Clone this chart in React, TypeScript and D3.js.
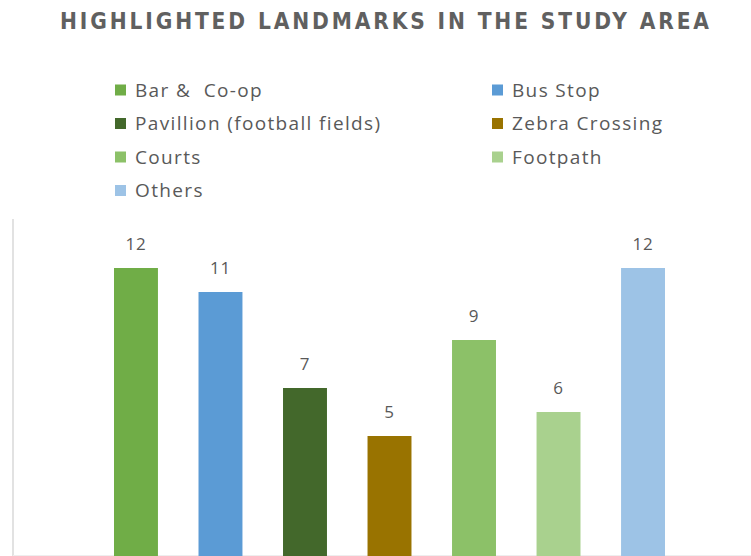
import React from "react";
import * as d3 from "d3";

const categories = ["Bar &  Co-op", "Bus Stop", "Pavillion (football fields)", "Zebra Crossing", "Courts", "Footpath", "Others"];
const values = [12, 11, 7, 5, 9, 6, 12];
const colors = ["#70AD47", "#5B9BD5", "#43682B", "#997300", "#8CC168", "#A9D18E", "#9DC3E6"];
const title = "HIGHLIGHTED LANDMARKS IN THE STUDY AREA";

const W = 751;
const H = 556;

export default function App() {
  const x = d3.scaleBand<string>().domain(categories).range([114, 665]).paddingInner(0.48).paddingOuter(0);
  const y = d3.scaleLinear().domain([0, 14]).range([556, 220]);
  const font = "'Open Sans', 'Noto Sans', sans-serif";
  return (
    <svg width={W} height={H} style={{ position: "absolute", left: 0, top: 0, background: "#fff" }}>
      <text x={60} y={28.5} textLength={649} lengthAdjust="spacing" fill="#606060" fontSize={22.5} fontWeight="bold"
        fontStretch="condensed"
        fontFamily="'DejaVu Sans', sans-serif">{title}</text>
      {categories.map((c, i) => {
        const col = i % 2;
        const row = Math.floor(i / 2);
        const lx = col === 0 ? 115 : 492;
        const ly = 90 + row * 33.5;
        return (
          <g key={c}>
            <rect x={lx} y={ly - 5.5} width={11} height={11} fill={colors[i]} />
            <text x={lx + 20} y={ly} dy="0.35em" fontSize={19} letterSpacing={1.35} fill="#595959" fontFamily={font} style={{ whiteSpace: "pre" }}>{c}</text>
          </g>
        );
      })}
      <line x1={13} x2={13} y1={219} y2={556} stroke="#D9D9D9" strokeWidth={1.5} />
      <line x1={13} x2={W} y1={555.5} y2={555.5} stroke="#EEEEEE" strokeWidth={1} />
      {categories.map((c, i) => (
        <g key={"b" + c}>
          <rect x={x(c)!} y={y(values[i])} width={x.bandwidth()} height={y(0) - y(values[i])} fill={colors[i]} />
          <text x={x(c)! + x.bandwidth() / 2} y={y(values[i]) - 18} textAnchor="middle" fontSize={17} letterSpacing={0.8} fill="#595959" fontFamily={font}>{values[i]}</text>
        </g>
      ))}
    </svg>
  );
}
